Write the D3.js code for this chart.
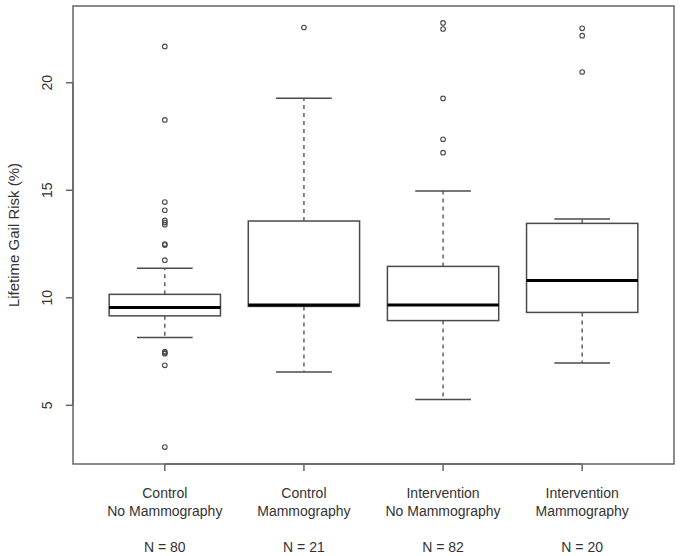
<!DOCTYPE html>
<html>
<head>
<meta charset="utf-8">
<script src="https://cdn.jsdelivr.net/npm/d3@7"></script>
<style>
  html, body { margin: 0; padding: 0; background: #fff; }
  svg text { font-family: "Liberation Sans", Arial, sans-serif; fill: #333; }
</style>
</head>
<body>
<svg id="chart" width="681" height="556"></svg>
<script>
// ---- data ----
const categories = ["Control\nNo Mammography", "Control\nMammography", "Intervention\nNo Mammography", "Intervention\nMammography"];
const nLabels = ["N = 80", "N = 21", "N = 82", "N = 20"];
const whiskerLow = [8.15, 6.55, 5.27, 6.97];
const q1 = [9.16, 9.6, 8.94, 9.32];
const medians = [9.55, 9.66, 9.66, 10.81];
const q3 = [10.16, 13.57, 11.46, 13.46];
const whiskerHigh = [11.37, 19.28, 14.97, 13.66];
const outliers = [
  [21.69, 18.27, 14.45, 14.07, 13.6, 13.5, 13.4, 12.5, 12.45, 11.75, 7.5, 7.44, 7.4, 6.86, 3.06],
  [22.57],
  [22.78, 22.5, 19.27, 17.37, 16.75],
  [22.53, 22.19, 20.5]
];
const yTicks = [5, 10, 15, 20];
const yTitle = "Lifetime Gail Risk (%)";

// ---- layout ----
const svg = d3.select("#chart");
const plot = { left: 73, right: 674, top: 6, bottom: 464 };

const dataMin = d3.min([d3.min(whiskerLow), d3.min(outliers.flat())]);
const dataMax = d3.max([d3.max(whiskerHigh), d3.max(outliers.flat())]);
const pad = (dataMax - dataMin) * 0.04;
const y = d3.scaleLinear().domain([dataMin - pad, dataMax + pad]).range([plot.bottom, plot.top]);
const n = categories.length;
const x = d3.scaleLinear().domain([0.5 - 0.16, n + 0.5 + 0.16]).range([plot.left, plot.right]);

const lineCol = "#4a4a4a";
const boxW = x(0.8) - x(0);
const capW = boxW / 2;

// frame
svg.append("rect")
  .attr("x", plot.left).attr("y", plot.top)
  .attr("width", plot.right - plot.left).attr("height", plot.bottom - plot.top)
  .attr("fill", "none").attr("stroke", "#666").attr("stroke-width", 1.5);

// y axis
const yAxis = svg.append("g");
yAxis.append("line")
  .attr("x1", plot.left).attr("x2", plot.left)
  .attr("y1", y(yTicks[0])).attr("y2", y(yTicks[yTicks.length - 1]))
  .attr("stroke", "#666").attr("stroke-width", 1.5);
yTicks.forEach(t => {
  yAxis.append("line")
    .attr("x1", plot.left - 7).attr("x2", plot.left)
    .attr("y1", y(t)).attr("y2", y(t))
    .attr("stroke", "#666").attr("stroke-width", 1.5);
  yAxis.append("text")
    .attr("transform", `translate(52,${y(t)}) rotate(-90)`)
    .attr("text-anchor", "middle")
    .attr("font-size", 14)
    .text(t);
});
svg.append("text")
  .attr("transform", `translate(19,${(plot.top + plot.bottom) / 2}) rotate(-90)`)
  .attr("text-anchor", "middle")
  .attr("font-size", 15)
  .text(yTitle);

// x axis ticks & labels
categories.forEach((c, i) => {
  const cx = x(i + 1);
  svg.append("line")
    .attr("x1", cx).attr("x2", cx)
    .attr("y1", plot.bottom).attr("y2", plot.bottom + 7)
    .attr("stroke", "#666").attr("stroke-width", 1.5);
  const lines = c.split("\n");
  lines.forEach((l, j) => {
    svg.append("text")
      .attr("x", cx).attr("y", 498 + j * 18)
      .attr("text-anchor", "middle")
      .attr("font-size", 14)
      .text(l);
  });
  svg.append("text")
    .attr("x", cx).attr("y", 552)
    .attr("text-anchor", "middle")
    .attr("font-size", 14)
    .text(nLabels[i]);
});
svg.append("line")
  .attr("x1", x(1)).attr("x2", x(n))
  .attr("y1", plot.bottom).attr("y2", plot.bottom)
  .attr("stroke", "#666").attr("stroke-width", 1.5);

// boxes
const g = svg.append("g");
categories.forEach((c, i) => {
  const cx = x(i + 1);
  // whiskers (dashed)
  g.append("line")
    .attr("x1", cx).attr("x2", cx)
    .attr("y1", y(q3[i])).attr("y2", y(whiskerHigh[i]))
    .attr("stroke", lineCol).attr("stroke-width", 1.3)
    .attr("stroke-dasharray", "4,4");
  g.append("line")
    .attr("x1", cx).attr("x2", cx)
    .attr("y1", y(q1[i])).attr("y2", y(whiskerLow[i]))
    .attr("stroke", lineCol).attr("stroke-width", 1.3)
    .attr("stroke-dasharray", "4,4");
  // caps
  [whiskerHigh[i], whiskerLow[i]].forEach(v => {
    g.append("line")
      .attr("x1", cx - capW / 2).attr("x2", cx + capW / 2)
      .attr("y1", y(v)).attr("y2", y(v))
      .attr("stroke", lineCol).attr("stroke-width", 1.5);
  });
  // box
  g.append("rect")
    .attr("x", cx - boxW / 2).attr("width", boxW)
    .attr("y", y(q3[i])).attr("height", y(q1[i]) - y(q3[i]))
    .attr("fill", "#fff").attr("stroke", lineCol).attr("stroke-width", 1.5);
  // median
  g.append("line")
    .attr("x1", cx - boxW / 2).attr("x2", cx + boxW / 2)
    .attr("y1", y(medians[i])).attr("y2", y(medians[i]))
    .attr("stroke", "#000").attr("stroke-width", 3);
  // outliers
  outliers[i].forEach(v => {
    g.append("circle")
      .attr("cx", cx).attr("cy", y(v)).attr("r", 2.3)
      .attr("fill", "none").attr("stroke", lineCol).attr("stroke-width", 1.1);
  });
});
</script>
</body>
</html>
